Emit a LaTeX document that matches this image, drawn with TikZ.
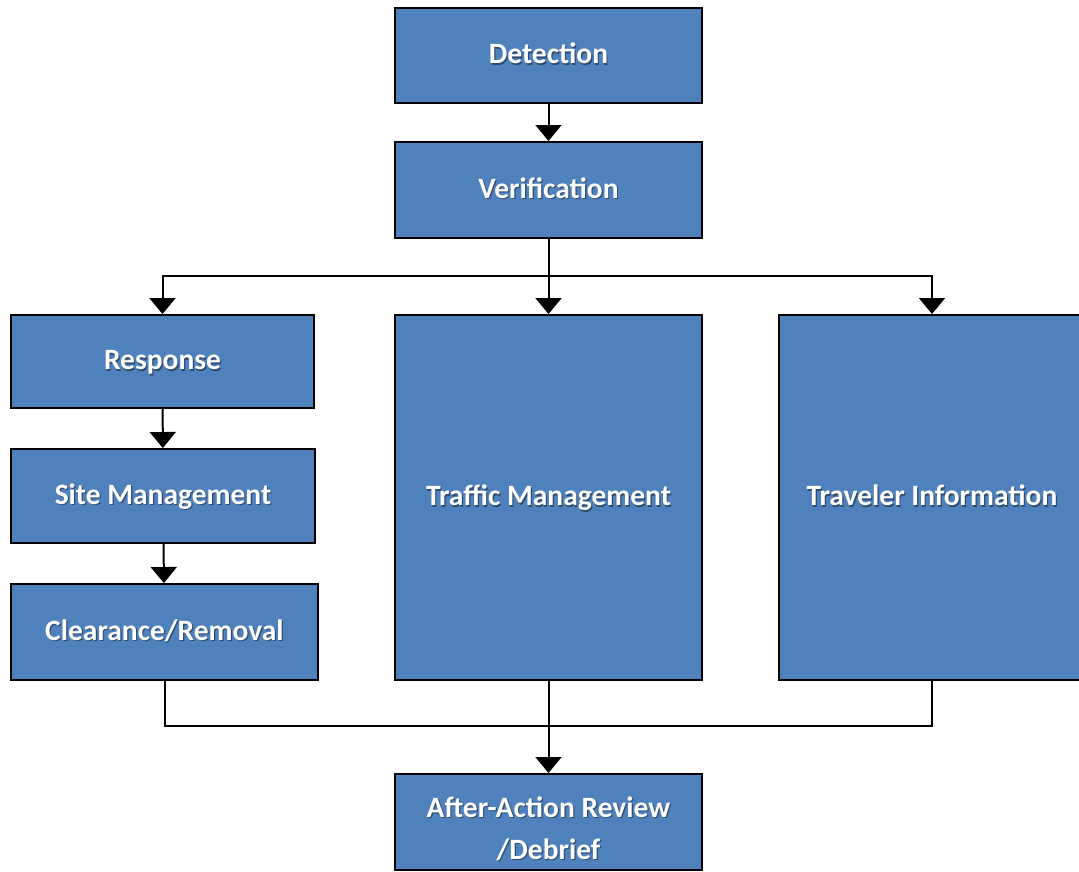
\documentclass[tikz,border=0pt]{standalone}
\usepackage{fontspec}
\setmainfont{Carlito}
\usetikzlibrary{arrows.meta}
\definecolor{boxblue}{HTML}{4F81BD}
\definecolor{shadowblue}{HTML}{2E4C70}
\newcommand\shd[1]{\makebox[0pt][l]{\hspace{1.2pt}\raisebox{-1.6pt}{\textcolor{shadowblue}{#1}}}#1}
\tikzset{
  box/.style={draw=black, line width=2pt, fill=boxblue, text=white,
    font=\fontsize{29.5}{42}\selectfont\bfseries, align=center, inner sep=0pt,
    text height=22pt, text depth=6pt},
  conn/.style={draw=black, line width=2pt},
  arr/.style={conn, -{Triangle[width=26pt,length=16pt]}}
}
\begin{document}
\begin{tikzpicture}[x=1pt,y=-1pt]
\useasboundingbox (0,0) rectangle (1079,871);
\node[box, minimum width=307, minimum height=95] (det) at (548.5,55.5) {\shd{Detection}};
\node[box, minimum width=307, minimum height=96] (ver) at (548.5,190) {\shd{Verification}};
\node[box, minimum width=303, minimum height=93] (resp) at (162.5,361.5) {\shd{Response}};
\node[box, minimum width=304, minimum height=94] (site) at (163,496) {\shd{Site Management}};
\node[box, minimum width=307, minimum height=96] (clr) at (164.5,632) {\shd{Clearance/Removal}};
\node[box, minimum width=307, minimum height=365] (traf) at (548.5,497.5) {\shd{Traffic Management}};
\node[box, minimum width=307, minimum height=365] (trav) at (932,497.5) {\shd{Traveler Information}};
\node[box, minimum width=307, minimum height=96] (aar) at (548.5,822) {\raisebox{-6pt}[0pt][0pt]{\begin{tabular}{@{}c@{}}\shd{After-Action Review}\\\shd{/Debrief}\end{tabular}}};
\coordinate (split) at (548.5,276);
\coordinate (join) at (548.5,726);
\draw[arr] (det) -- (ver);
\draw[arr] (ver) -- (traf);
\draw[arr] (ver.south) -- (split) -| (resp.north);
\draw[arr] (split) -| (trav.north);
\draw[arr] (resp) -- (site);
\draw[arr] (site) -- (clr);
\draw[conn] (clr.south) |- (join) -| (trav.south);
\draw[arr] (traf) -- (aar);
\end{tikzpicture}
\end{document}
